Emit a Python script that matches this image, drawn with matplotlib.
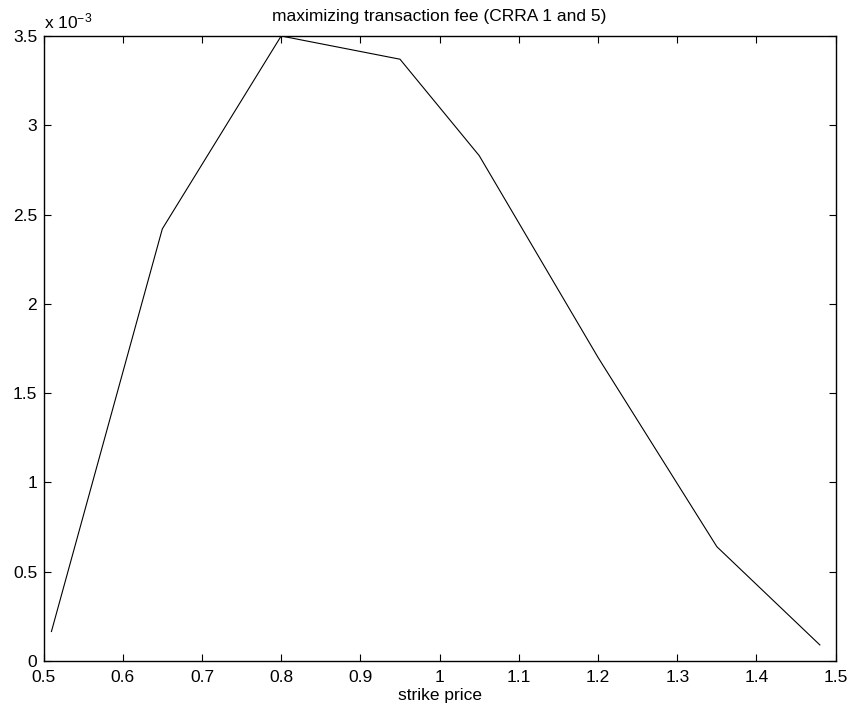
import matplotlib
matplotlib.use("Agg")
import matplotlib.pyplot as plt
from matplotlib.ticker import FuncFormatter, MultipleLocator

plt.rcParams['font.family'] = ['Liberation Sans', 'DejaVu Sans']
plt.rcParams['mathtext.fontset'] = 'custom'
plt.rcParams['mathtext.rm'] = 'Liberation Sans'
plt.rcParams['mathtext.it'] = 'Liberation Sans'

# data
strike_price = [0.51, 0.65, 0.80, 0.95, 1.05, 1.20, 1.35, 1.48]
transaction_fee = [0.165e-3, 2.42e-3, 3.50e-3, 3.37e-3, 2.83e-3, 1.70e-3, 0.64e-3, 0.09e-3]
title_text = "maximizing transaction fee (CRRA 1 and 5)"
xlabel_text = "strike price"

fig = plt.figure(figsize=(8.52, 7.15), dpi=100)
ax = fig.add_axes([43.5 / 852, 1 - 661 / 715, (835.7 - 43.5) / 852, (661 - 36) / 715])

ax.plot(strike_price, transaction_fee, color='black', linewidth=0.8)

ax.set_xlim(0.5, 1.5)
ax.set_ylim(0, 3.5e-3)
ax.xaxis.set_major_locator(MultipleLocator(0.1))
ax.yaxis.set_major_locator(MultipleLocator(0.5e-3))
ax.xaxis.set_major_formatter(FuncFormatter(lambda v, p: f"{round(v, 2):g}"))
ax.yaxis.set_major_formatter(FuncFormatter(lambda v, p: f"{round(v * 1e3, 2):g}"))

ax.tick_params(direction='in', length=5, width=0.8, top=True, right=True,
               labelsize=12.5, colors='black')
ax.tick_params(axis='x', pad=6.5)
ax.tick_params(axis='y', pad=4.5)
for s in ax.spines.values():
    s.set_linewidth(1.0)

ax.set_title(title_text, fontsize=12.5, pad=11)
ax.set_xlabel(xlabel_text, fontsize=12.5, labelpad=2)

ax.text(0.0, 1.008, r"x 10$^{-3}$", transform=ax.transAxes, fontsize=12.5,
        ha='left', va='bottom')

fig.savefig("out.png", dpi=100)
